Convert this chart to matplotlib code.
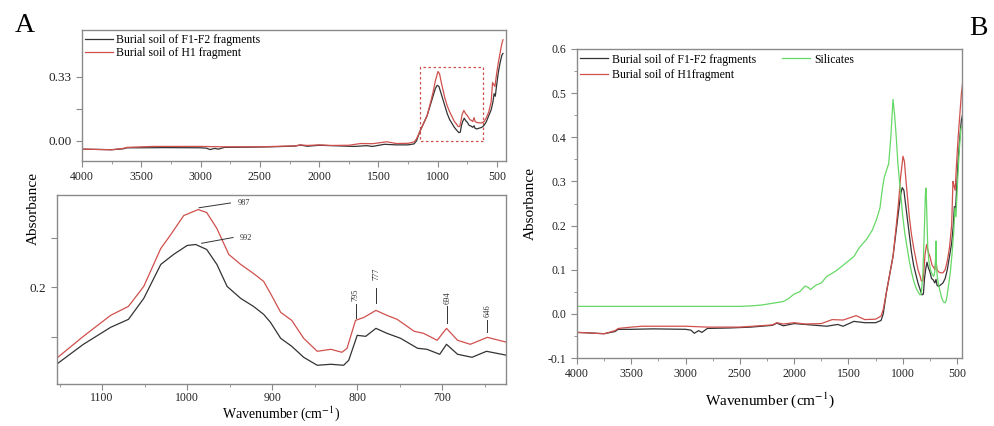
import numpy as np
import matplotlib
matplotlib.use("Agg")
import matplotlib.pyplot as plt
from matplotlib.patches import Rectangle
from matplotlib.ticker import MultipleLocator, FormatStrFormatter

plt.rcParams['font.family'] = ['Liberation Serif', 'DejaVu Serif']
plt.rcParams['mathtext.fontset'] = 'stix'

# ---- full spectra (panel A top + panel B) ----
wn_f1f2 = [4000, 3900, 3750, 3650, 3620, 3500, 3300, 3000, 2950, 2920, 2880, 2850, 2800, 2600, 2400,
           2200, 2160, 2100, 2000, 1900, 1800, 1700, 1600, 1550, 1450, 1350, 1250, 1200, 1180, 1150,
           1120, 1090, 1060, 1040, 1020, 1005, 990, 975, 960, 940, 920, 900, 880, 860, 840,
           823, 810, 800, 790, 777, 765, 750, 735, 720, 705, 694, 685, 670, 650, 630,
           610, 590, 570, 550, 535, 525, 515, 505, 490, 475, 460, 450]
abs_f1f2 = [-0.042, -0.043, -0.045, -0.04, -0.035, -0.035, -0.034, -0.035, -0.037, -0.044, -0.038, -0.042, -0.033, -0.032, -0.030,
            -0.026, -0.021, -0.027, -0.022, -0.024, -0.026, -0.028, -0.024, -0.028, -0.017, -0.020, -0.020, -0.015, 0.0, 0.05,
            0.09, 0.13, 0.19, 0.23, 0.27, 0.286, 0.28, 0.25, 0.22, 0.18, 0.14, 0.11, 0.09, 0.07, 0.055,
            0.043, 0.045, 0.08, 0.10, 0.117, 0.105, 0.095, 0.08, 0.077, 0.07, 0.078, 0.065, 0.062, 0.066, 0.07,
            0.08, 0.10, 0.13, 0.16, 0.20, 0.243, 0.23, 0.28, 0.35, 0.40, 0.44, 0.45]

wn_h1 = [4000, 3900, 3750, 3650, 3620, 3500, 3400, 3000, 2800, 2500, 2200, 2160, 2100, 2000, 1900,
         1750, 1650, 1550, 1430, 1350, 1250, 1200, 1180, 1150, 1120, 1090, 1060, 1040, 1020, 998,
         985, 970, 955, 940, 920, 900, 880, 860, 840, 830, 815, 805, 795, 780, 765,
         750, 730, 715, 705, 694, 685, 670, 650, 630, 610, 590, 570, 550, 538, 528,
         518, 505, 490, 475, 460, 450]
abs_h1 = [-0.042, -0.043, -0.045, -0.038, -0.033, -0.030, -0.028, -0.028, -0.030, -0.030, -0.025, -0.020, -0.023, -0.020, -0.023,
          -0.022, -0.013, -0.014, -0.004, -0.013, -0.012, -0.005, 0.01, 0.05, 0.09, 0.13, 0.20, 0.25, 0.31, 0.357,
          0.345, 0.30, 0.26, 0.22, 0.18, 0.15, 0.125, 0.10, 0.085, 0.075, 0.074, 0.10, 0.135, 0.157, 0.14,
          0.13, 0.11, 0.105, 0.10, 0.12, 0.10, 0.095, 0.093, 0.093, 0.10, 0.12, 0.15, 0.20, 0.30, 0.29,
          0.28, 0.34, 0.40, 0.45, 0.50, 0.52]

wn_sil = [4000, 3000, 2500, 2400, 2300, 2200, 2100, 2050, 2000, 1950, 1900, 1870, 1850, 1800, 1750,
          1700, 1650, 1600, 1500, 1450, 1400, 1330, 1280, 1240, 1210, 1190, 1170, 1150, 1130, 1110,
          1090, 1075, 1060, 1045, 1030, 1015, 1000, 980, 960, 940, 920, 900, 880, 860, 842,
          830, 815, 800, 792, 786, 780, 770, 760, 745, 730, 715, 705, 697, 694, 690,
          683, 670, 655, 640, 625, 611, 600, 590, 575, 560, 545, 530, 520, 510, 495,
          480, 465, 455]
abs_sil = [0.017, 0.017, 0.017, 0.018, 0.02, 0.024, 0.028, 0.035, 0.045, 0.05, 0.063, 0.06, 0.055, 0.065, 0.07,
           0.085, 0.092, 0.1, 0.12, 0.13, 0.15, 0.17, 0.19, 0.215, 0.24, 0.28, 0.31, 0.325, 0.34, 0.40,
           0.486, 0.45, 0.40, 0.34, 0.30, 0.26, 0.22, 0.18, 0.15, 0.12, 0.095, 0.075, 0.06, 0.05, 0.043,
           0.045, 0.09, 0.20, 0.27, 0.285, 0.24, 0.15, 0.12, 0.10, 0.09, 0.085, 0.095, 0.13, 0.165, 0.11,
           0.085, 0.065, 0.05, 0.035, 0.027, 0.025, 0.03, 0.045, 0.07, 0.10, 0.14, 0.19, 0.24, 0.22, 0.30,
           0.37, 0.42, 0.425]

# ---- zoomed region (panel A bottom) ----
wn_zoom_f1f2 = [1152, 1122, 1090, 1069, 1051, 1031, 1016, 1000, 990, 977, 965, 953, 937, 922, 910,
                902, 890, 877, 863, 847, 831, 816, 810, 800, 790, 778, 765, 749, 729, 718,
                703, 695, 682, 665, 648, 624]
abs_zoom_f1f2 = [0.124, 0.143, 0.160, 0.168, 0.189, 0.223, 0.233, 0.242, 0.243, 0.238, 0.223, 0.201, 0.189, 0.181, 0.173,
                 0.165, 0.149, 0.141, 0.130, 0.122, 0.123, 0.122, 0.127, 0.152, 0.151, 0.159, 0.154, 0.149, 0.139, 0.138,
                 0.133, 0.143, 0.133, 0.130, 0.136, 0.132]
wn_zoom_h1 = [1152, 1122, 1090, 1069, 1051, 1031, 1020, 1004, 987, 977, 965, 951, 937, 922, 910,
              902, 890, 877, 863, 847, 831, 818, 812, 802, 792, 778, 765, 753, 733, 722,
              706, 695, 682, 667, 647, 624]
abs_zoom_h1 = [0.130, 0.151, 0.172, 0.181, 0.201, 0.239, 0.252, 0.272, 0.278, 0.275, 0.259, 0.233, 0.223, 0.214, 0.206,
               0.194, 0.175, 0.167, 0.149, 0.136, 0.138, 0.135, 0.139, 0.167, 0.170, 0.177, 0.172, 0.168, 0.156, 0.154,
               0.147, 0.159, 0.147, 0.143, 0.150, 0.145]

peak_labels = ['795', '777', '694', '646']

BLACK = '#333333'
RED = '#d0504c'
GREEN = '#66d866'
GRAY = '#8a8a8a'

fig = plt.figure(figsize=(9.95, 4.26), dpi=100)


def style(ax):
    for s in ax.spines.values():
        s.set_color(GRAY)
        s.set_linewidth(1.0)
    ax.tick_params(which='both', direction='out', color=GRAY, labelcolor='#222222', labelsize=8.5)
    ax.tick_params(which='major', length=4)
    ax.tick_params(which='minor', length=2.5)


# panel A, top
ax1 = fig.add_axes([0.0824, 0.622, 0.4261, 0.3075])
ax1.plot(wn_f1f2, abs_f1f2, color=BLACK, lw=0.9, label='Burial soil of F1-F2 fragments')
ax1.plot(wn_h1, abs_h1, color=RED, lw=0.9, label='Burial soil of H1 fragment')
ax1.add_patch(Rectangle((620, 0.0), 530, 0.38, fill=False, ls=(0, (2, 2)), lw=0.9, ec=RED))
ax1.set_xlim(4000, 425)
ax1.set_ylim(-0.103, 0.57)
ax1.set_yticks([0.0, 0.165, 0.33])
ax1.set_yticklabels(['0.00', '', '0.33'])
ax1.xaxis.set_major_locator(MultipleLocator(500))
ax1.xaxis.set_minor_locator(MultipleLocator(250))
style(ax1)
ax1.tick_params(axis='y', labelsize=9.5)
ax1.legend(loc='upper left', bbox_to_anchor=(0.006, 0.97), frameon=False, fontsize=8.5,
           handlelength=2.4, handletextpad=0.3, labelspacing=0.1, borderaxespad=0, borderpad=0)

# panel A, bottom
ax2 = fig.add_axes([0.0573, 0.0985, 0.4513, 0.4438])
ax2.plot(wn_zoom_f1f2, abs_zoom_f1f2, color=BLACK, lw=0.9)
ax2.plot(wn_zoom_h1, abs_zoom_h1, color=RED, lw=0.9)
ax2.set_xlim(1153, 625)
ax2.set_ylim(0.1032, 0.2926)
ax2.set_yticks([0.15, 0.2, 0.25])
ax2.set_yticklabels(['', '0.2', ''])
ax2.xaxis.set_major_locator(MultipleLocator(100))
ax2.xaxis.set_minor_locator(MultipleLocator(50))
style(ax2)
ax2.tick_params(axis='y', labelsize=9.5)
ax2.tick_params(axis='x', pad=2)
ax2.set_xlabel('Wavenumber (cm$^{-1}$)', fontsize=10, labelpad=0)

# peak annotations
ax2.plot([986, 949], [0.2798, 0.2846], color=BLACK, lw=0.7)
ax2.text(941, 0.2846, '987', fontsize=6, va='center', ha='left', color=BLACK)
ax2.plot([983, 946], [0.2442, 0.2500], color=BLACK, lw=0.7)
ax2.text(938, 0.2500, '992', fontsize=6, va='center', ha='left', color=BLACK)
vlines = [(802, 0.1692, 0.1837, 0.1923), (777.5, 0.1846, 0.1990, 0.2135),
          (694, 0.1644, 0.1817, 0.1894), (647, 0.1558, 0.1673, 0.1769)]
for lab, (x, y0, y1, yt) in zip(peak_labels, vlines):
    ax2.plot([x, x], [y0, y1], color=BLACK, lw=0.7)
    ax2.text(x, yt, lab, fontsize=6, rotation=90, ha='center', va='center', color=BLACK)

fig.text(0.034, 0.511, 'Absorbance', rotation=90, ha='center', va='center', fontsize=11)
fig.text(0.025, 0.94, 'A', ha='center', va='center', fontsize=20)

# panel B
ax3 = fig.add_axes([0.5799, 0.1596, 0.3869, 0.7254])
ax3.plot(wn_f1f2, abs_f1f2, color=BLACK, lw=0.9, label='Burial soil of F1-F2 fragments')
ax3.plot(wn_h1, abs_h1, color=RED, lw=0.9, label='Burial soil of H1fragment')
ax3.plot(wn_sil, abs_sil, color=GREEN, lw=0.9, label='Silicates')
ax3.set_xlim(4000, 455)
ax3.set_ylim(-0.1, 0.6)
ax3.xaxis.set_major_locator(MultipleLocator(500))
ax3.xaxis.set_minor_locator(MultipleLocator(250))
ax3.yaxis.set_major_locator(MultipleLocator(0.1))
ax3.yaxis.set_minor_locator(MultipleLocator(0.05))
ax3.yaxis.set_major_formatter(FormatStrFormatter('%.1f'))
style(ax3)
ax3.set_xlabel('Wavenumber (cm$^{-1}$)', fontsize=11, labelpad=7)
ax3.set_ylabel('Absorbance', fontsize=11, labelpad=8)
ax3.legend(loc='upper left', bbox_to_anchor=(0.008, 0.985), ncol=2, frameon=False, fontsize=8.5,
           handlelength=2.4, handletextpad=0.3, labelspacing=0.3, columnspacing=2.2,
           borderaxespad=0, borderpad=0)
fig.text(0.983, 0.934, 'B', ha='center', va='center', fontsize=20)

fig.savefig('out.png', dpi=100)
